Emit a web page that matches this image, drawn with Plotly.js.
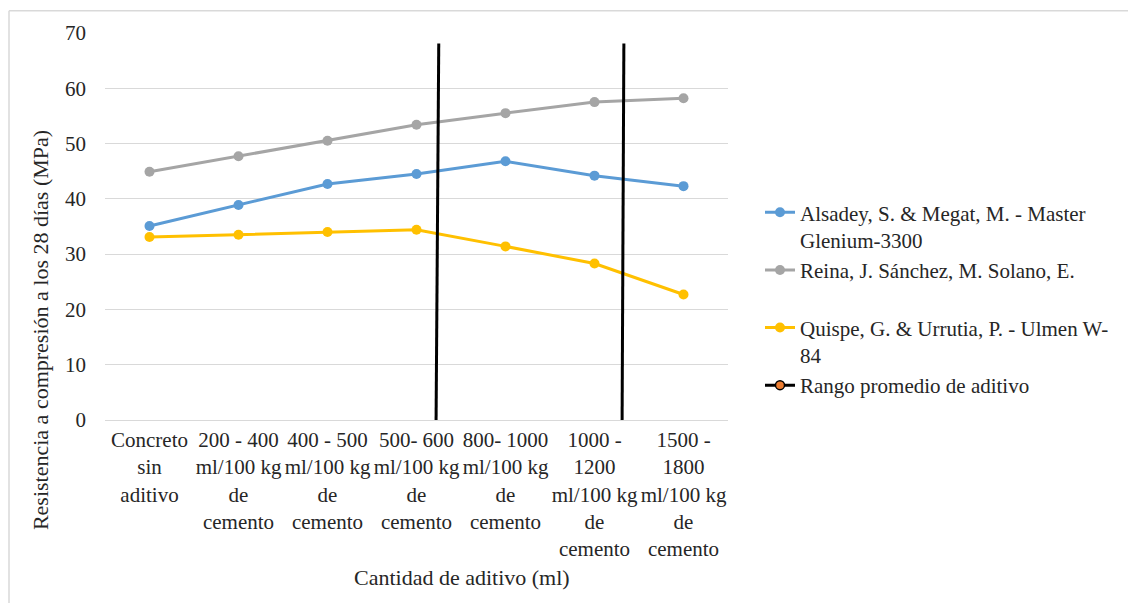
<!DOCTYPE html>
<html>
<head>
<meta charset="utf-8">
<script src="https://cdn.plot.ly/plotly-3.0.1.min.js"></script>
<style>
html,body{margin:0;padding:0;background:#fff;}
#chart{width:1128px;height:603px;}
</style>
</head>
<body>
<div id="chart"></div>
<script>
const categories = [
  "Concreto<br>sin<br>aditivo",
  "200 - 400<br>ml/100 kg<br>de<br>cemento",
  "400 - 500<br>ml/100 kg<br>de<br>cemento",
  "500- 600<br>ml/100 kg<br>de<br>cemento",
  "800- 1000<br>ml/100 kg<br>de<br>cemento",
  "1000 -<br>1200<br>ml/100 kg<br>de<br>cemento",
  "1500 -<br>1800<br>ml/100 kg<br>de<br>cemento"
];
const catIndex = [0, 1, 2, 3, 4, 5, 6];
const alsadey = [35.1, 38.9, 42.7, 44.5, 46.8, 44.2, 42.3];
const reina = [44.9, 47.7, 50.5, 53.4, 55.5, 57.5, 58.2];
const quispe = [33.1, 33.5, 34.0, 34.4, 31.4, 28.3, 22.7];
const rangoX1 = [3.22, 3.25];
const rangoX2 = [5.31, 5.33];
const rangoY = [0, 68.1];
const yTicks = [0, 10, 20, 30, 40, 50, 60, 70];

const names = [
  "Alsadey, S. & Megat, M. - Master<br>Glenium-3300",
  "Reina, J. Sánchez, M. Solano, E.<br>\u00a0",
  "Quispe, G. & Urrutia, P. - Ulmen W-<br>84",
  "Rango promedio de aditivo"
];

const fam = "Times New Roman, Liberation Serif, serif";
const font = {family: fam, size: 21, color: "#262626"};
const bigFont = {family: fam, size: 22, color: "#262626"};

const traces = [
  {x: catIndex, y: alsadey, name: names[0], mode: "lines+markers",
   line: {color: "#5b9bd5", width: 3}, marker: {color: "#5b9bd5", size: 10}},
  {x: catIndex, y: reina, name: names[1], mode: "lines+markers",
   line: {color: "#a5a5a5", width: 3}, marker: {color: "#a5a5a5", size: 10}},
  {x: catIndex, y: quispe, name: names[2], mode: "lines+markers",
   line: {color: "#ffc000", width: 3}, marker: {color: "#ffc000", size: 10}},
  {x: rangoX1, y: rangoY, mode: "lines", showlegend: false, legendgroup: "r",
   line: {color: "#000000", width: 3}},
  {x: rangoX2, y: rangoY, mode: "lines", showlegend: false, legendgroup: "r",
   line: {color: "#000000", width: 3}},
  {x: [null], y: [null], name: names[3], mode: "lines+markers", legendgroup: "r",
   line: {color: "#000000", width: 3},
   marker: {color: "#ed7d31", size: 9, line: {color: "#000000", width: 1.5}}}
];

const L = 105, R = 728, T = 32.7, B = 420;
const W = R - L, H = B - T;
const px = v => (v - L) / W;
const py = v => (B - v) / H;

const layout = {
  width: 1128, height: 603,
  margin: {l: L, r: 1128 - R, t: T, b: 603 - B, pad: 0},
  paper_bgcolor: "#ffffff", plot_bgcolor: "#ffffff",
  font: font,
  showlegend: true,
  legend: {x: px(760), y: py(192), xanchor: "left", yanchor: "top",
           font: font, valign: "top", bgcolor: "rgba(0,0,0,0)", tracegroupgap: 0},
  xaxis: {range: [-0.5, 6.5], tickmode: "array", tickvals: catIndex, ticktext: categories,
          showgrid: false, zeroline: false, showline: false, ticks: "", tickfont: font,
          tickangle: 0, automargin: false,
          ticklabelstandoff: 5, fixedrange: true},
  yaxis: {range: [0, 70], tickmode: "array", tickvals: yTicks, ticktext: yTicks.map(String),
          showgrid: true, gridcolor: "#d9d9d9", gridwidth: 1,
          zeroline: true, zerolinecolor: "#d9d9d9", zerolinewidth: 1, automargin: false,
          showline: false, ticks: "", tickfont: font, ticklabelstandoff: 18, fixedrange: true},
  annotations: [
    {text: "Resistencia a compresión a los 28 días (MPa)", xref: "paper", yref: "paper",
     x: px(40), y: py(330), xanchor: "center", yanchor: "middle", textangle: -90,
     showarrow: false, font: bigFont},
    {text: "Cantidad de aditivo (ml)", xref: "paper", yref: "paper",
     x: px(462), y: py(578), xanchor: "center", yanchor: "middle",
     showarrow: false, font: bigFont}
  ],
  shapes: [
    {type: "line", xref: "paper", yref: "paper", x0: px(9), x1: px(1140), y0: py(10.5), y1: py(10.5),
     line: {color: "#d9d9d9", width: 1.5}},
    {type: "line", xref: "paper", yref: "paper", x0: px(9), x1: px(9), y0: py(10.5), y1: py(620),
     line: {color: "#d9d9d9", width: 1.5}}
  ]
};

Plotly.newPlot("chart", traces, layout, {displayModeBar: false, staticPlot: true});
</script>
</body>
</html>
